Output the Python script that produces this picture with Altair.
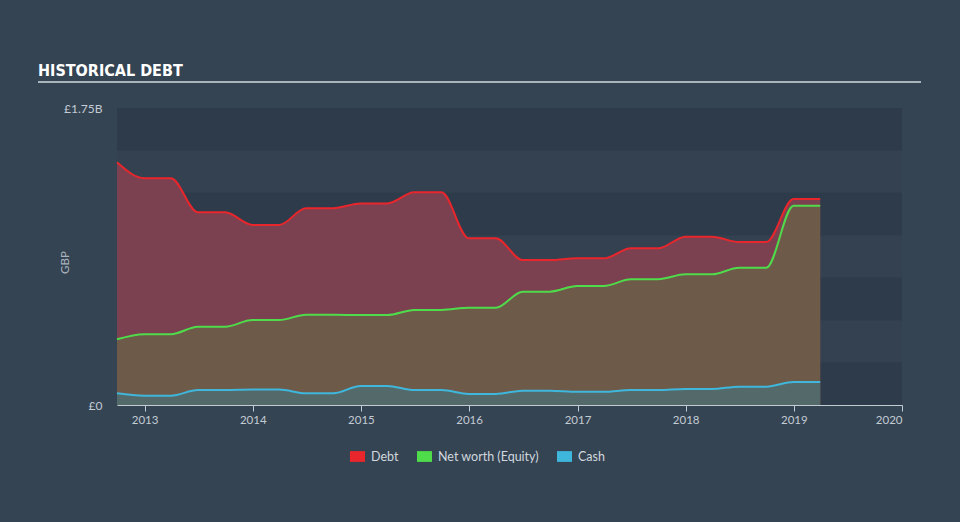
import altair as alt
import pandas as pd

dates = ["2012-09-30", "2012-12-31", "2013-03-31", "2013-06-30", "2013-09-30",
         "2013-12-31", "2014-03-31", "2014-06-30", "2014-09-30", "2014-12-31",
         "2015-03-31", "2015-06-30", "2015-09-30", "2015-12-31", "2016-03-31",
         "2016-06-30", "2016-09-30", "2016-12-31", "2017-03-31", "2017-06-30",
         "2017-09-30", "2017-12-31", "2018-03-31", "2018-06-30", "2018-09-30",
         "2018-12-31", "2019-03-31"]
debt = [1.430, 1.336, 1.336, 1.135, 1.135, 1.061, 1.061, 1.159, 1.159, 1.188,
        1.188, 1.253, 1.253, 0.982, 0.982, 0.854, 0.854, 0.864, 0.864, 0.923,
        0.923, 0.992, 0.992, 0.960, 0.960, 1.214, 1.214]
equity = [0.387, 0.417, 0.417, 0.461, 0.461, 0.501, 0.501, 0.532, 0.532, 0.530,
          0.530, 0.560, 0.560, 0.573, 0.573, 0.668, 0.668, 0.701, 0.701, 0.741,
          0.741, 0.770, 0.770, 0.809, 0.809, 1.174, 1.174]
cash = [0.069, 0.055, 0.055, 0.088, 0.088, 0.091, 0.091, 0.069, 0.069, 0.112,
        0.112, 0.088, 0.088, 0.065, 0.065, 0.084, 0.084, 0.078, 0.078, 0.088,
        0.088, 0.094, 0.094, 0.108, 0.108, 0.136, 0.136]
series_names = ["Debt", "Net worth (Equity)", "Cash"]
series_colors = ["#e8262c", "#4fdc4a", "#3fb6dc"]
band_lo = [0.0, 0.5, 1.0, 1.5]
band_hi = [0.25, 0.75, 1.25, 1.75]

W_PLOT, H_PLOT = 785, 297
Y_MAX = 1.75e9

wide = pd.DataFrame({
    "date": pd.to_datetime(dates),
    "Debt": [v * 1e9 for v in debt],
    "Equity": [v * 1e9 for v in equity],
    "Cash": [v * 1e9 for v in cash],
})
bands = pd.DataFrame({"lo": [v * 1e9 for v in band_lo], "hi": [v * 1e9 for v in band_hi]})
# legend helper rows, placed outside the x domain and clipped away
legend_df = pd.DataFrame({"date": pd.to_datetime(["2030-01-01"] * 3),
                          "series": series_names, "value": [0.0] * 3})

FONT = "Lato"
AXC = "#c3cbd3"

xscale = alt.Scale(domain=["2012-09-30", "2020-01-01"])
yscale = alt.Scale(domain=[0, Y_MAX], nice=False)
cscale = alt.Scale(domain=series_names, range=series_colors)

x_enc = alt.X("date:T", scale=xscale, axis=alt.Axis(
    format="%Y", tickCount={"interval": "year", "step": 1}, grid=False,
    domainColor=AXC, tickColor=AXC, tickSize=6, labelColor=AXC,
    labelFont=FONT, labelFontSize=11.5, labelPadding=3, title=None))

bg = alt.Chart(bands).mark_rect(color="#2e3b4a").encode(
    x=alt.value(0), x2=alt.value(W_PLOT),
    y=alt.Y("lo:Q", scale=yscale, axis=alt.Axis(
        values=[0, Y_MAX],
        labelExpr="datum.value == 0 ? '£0' : '£' + format(datum.value / 1e9, '.2f') + 'B'",
        grid=False, domain=False, ticks=False, labelColor=AXC, labelFont=FONT,
        labelFontSize=12, labelPadding=15, title="GBP", titleColor="#a9b3bd",
        titleFont=FONT, titleFontSize=11.5, titleFontWeight="normal",
        titleX=-52, titleY=154, titleBaseline="middle")),
    y2="hi:Q",
)

area_fills = {"Debt": "#7c4150", "Equity": "#6e5a49", "Cash": "#546a6a"}
areas = [
    alt.Chart(wide).mark_area(color=area_fills[col], interpolate="monotone").encode(
        x=x_enc if col == "Debt" else alt.X("date:T"),
        y=alt.Y(f"{col}:Q", scale=yscale))
    for col in ["Debt", "Equity", "Cash"]
]
lines = [
    alt.Chart(wide).mark_line(color=c, strokeWidth=2, interpolate="monotone").encode(
        x="date:T", y=alt.Y(f"{col}:Q", scale=yscale))
    for col, c in zip(["Debt", "Equity", "Cash"], series_colors)
]

legend_layer = alt.Chart(legend_df).mark_point(
    filled=True, opacity=1, clip=True, shape="M-1,-0.72H1V0.72H-1Z", size=225
).encode(
    x="date:T",
    y=alt.Y("value:Q", scale=yscale),
    color=alt.Color("series:N", scale=cscale, legend=alt.Legend(
        orient="none", legendX=233, legendY=341, direction="horizontal",
        title=None, labelColor="#d0d7de", labelFont=FONT, labelFontSize=12.5,
        symbolType="M-1,-0.72H1V0.72H-1Z", symbolSize=225, symbolOpacity=1,
        symbolStrokeWidth=0, columnPadding=18, labelOffset=6)),
)

title_rule = alt.Chart(bands).mark_rule(color="#aab4be", strokeWidth=1.5).encode(
    x=alt.value(-79), x2=alt.value(804), y=alt.value(-26))

chart = alt.layer(bg, *areas, *lines, legend_layer, title_rule).properties(
    width=W_PLOT, height=H_PLOT,
    background="#354453",
    padding={"left": 117, "top": 108, "right": 58, "bottom": 117},
    autosize=alt.AutoSizeParams(type="none"),
    title=alt.TitleParams("HISTORICAL DEBT", anchor="start", frame="group",
                          dx=-79, dy=44, color="#ffffff",
                          font="'Liberation Sans Narrow', 'DejaVu Sans Condensed', sans-serif",
                          fontSize=16, fontWeight="bold", baseline="alphabetic", offset=33),
).configure_view(fill="#334151", stroke=None)

chart.save("out.html", embed_options={"renderer": "svg", "actions": False})
